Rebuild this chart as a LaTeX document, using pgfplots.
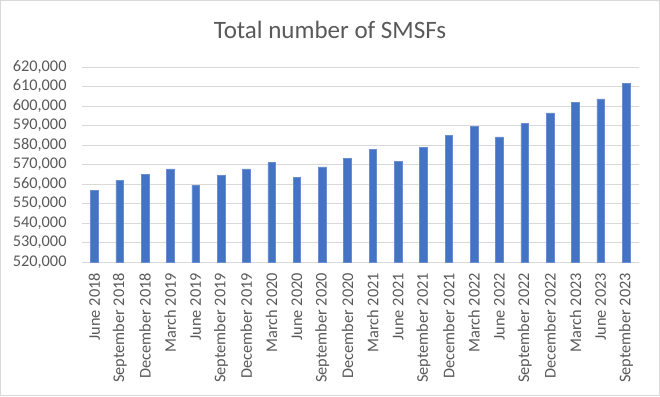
\documentclass[border=0pt]{standalone}
\usepackage{fontspec}
\setmainfont{Carlito}
\usepackage{pgfplots}
\pgfplotsset{compat=1.18}
\definecolor{barblue}{HTML}{4472C4}
\definecolor{txtgray}{HTML}{595959}
\definecolor{gridgray}{HTML}{D9D9D9}
\begin{document}
\begin{tikzpicture}[x=1bp,y=1bp]
\useasboundingbox (0,0) rectangle (660,396);
\draw[gridgray, line width=1bp] (0.5,0.5) rectangle (659.5,395.5);
\node[anchor=base, text=txtgray, font=\fontsize{25bp}{29bp}\selectfont, inner sep=0pt] at (330,357.7) {Total number of SMSFs};
\begin{axis}[
  at={(81.7bp,134bp)}, anchor=south west,
  scale only axis, width=557bp, height=195bp,
  xmin=-0.5, xmax=21.5, ymin=520000, ymax=620000,
  ytick={520000,530000,...,620000},
  xtick={0,...,21},
  xticklabels={June 2018,September 2018,December 2018,March 2019,June 2019,September 2019,December 2019,March 2020,June 2020,September 2020,December 2020,March 2021,June 2021,September 2021,December 2021,March 2022,June 2022,September 2022,December 2022,March 2023,June 2023,September 2023},
  axis line style={draw=none},
  major tick length=0pt,
  ymajorgrids, grid style={gridgray, line width=0.9bp},
  ybar, bar width=7.6bp,
  /pgf/number format/.cd, fixed, 1000 sep={,}, assume math mode=true,
  /pgfplots/.cd,
  scaled y ticks=false,
  ticklabel style={text=txtgray, font=\fontsize{16.3bp}{19bp}\selectfont, inner sep=0pt},
  yticklabel style={anchor=east},
  yticklabel shift=15bp,
  xticklabel style={rotate=90, anchor=east},
  xticklabel shift=11bp,
]
\addplot[fill=barblue, draw=barblue!80!white, line width=0.5bp] coordinates {
(0,556600) (1,562000) (2,564900) (3,567800) (4,559400) (5,564500) (6,567800) (7,570900) (8,563500) (9,568800) (10,573100) (11,577900) (12,571500) (13,578900) (14,584900) (15,589700) (16,584200) (17,590900) (18,596500) (19,602000) (20,603700) (21,611600)
};
\end{axis}
\end{tikzpicture}
\end{document}
